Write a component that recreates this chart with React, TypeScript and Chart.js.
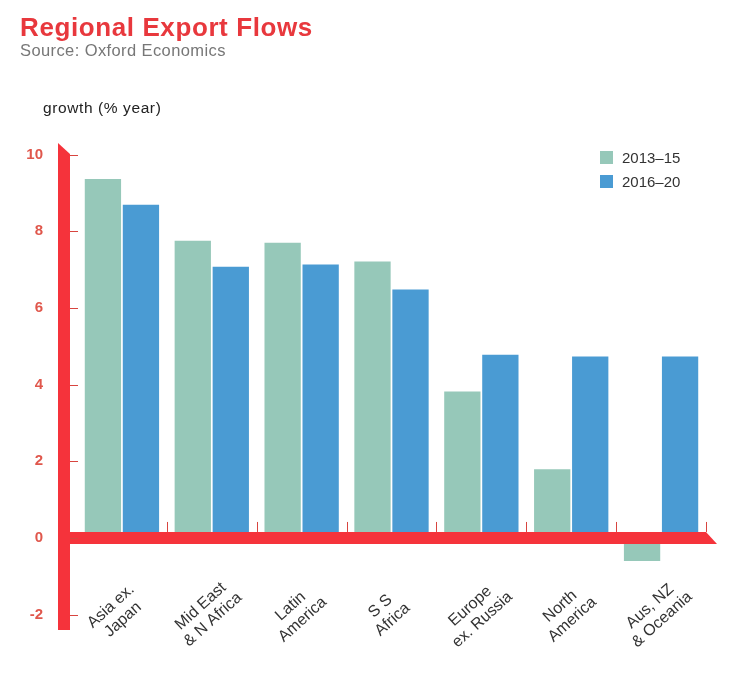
import React, { useEffect, useRef } from "react";
import { Chart, registerables } from "chart.js";

Chart.register(...registerables);

const categories: string[][] = [
  ["Asia ex.", "Japan"],
  ["Mid East", "& N Africa"],
  ["Latin", "America"],
  ["S S", "Africa"],
  ["Europe", "ex. Russia"],
  ["North", "America"],
  ["Aus, NZ", "& Oceania"],
];
const series2013 = [9.36, 7.75, 7.7, 7.21, 3.82, 1.79, -0.6];
const series2016 = [8.69, 7.07, 7.13, 6.48, 4.78, 4.73, 4.73];
const seriesLabels = ["2013–15", "2016–20"];
const seriesColors = ["#96c8b9", "#4a9bd3"];
const yTicks = [-2, 0, 2, 4, 6, 8, 10];

const RED = "#f5333b";
const FONT = '"Liberation Sans", Arial, Helvetica, sans-serif';

const axesPlugin = {
  id: "redAxes",
  afterDatasetsDraw(chart: any) {
    const { ctx, chartArea, scales } = chart;
    const x = scales.x;
    const y = scales.y;
    const y0 = y.getPixelForValue(0);
    const axX = chartArea.left - 13;
    const half = 6;
    ctx.save();
    ctx.fillStyle = RED;
    ctx.beginPath();
    ctx.moveTo(axX - half, chartArea.bottom);
    ctx.lineTo(axX + half, chartArea.bottom);
    ctx.lineTo(axX + half, chartArea.top + 11);
    ctx.lineTo(axX - half, chartArea.top);
    ctx.closePath();
    ctx.fill();
    ctx.beginPath();
    ctx.moveTo(axX, y0 - half);
    ctx.lineTo(chartArea.right, y0 - half);
    ctx.lineTo(chartArea.right + 11, y0 + half);
    ctx.lineTo(axX, y0 + half);
    ctx.closePath();
    ctx.fill();
    ctx.strokeStyle = "#d8453f";
    ctx.lineWidth = 1;
    yTicks.forEach((v) => {
      const py = Math.round(y.getPixelForValue(v)) + 0.5;
      ctx.beginPath();
      ctx.moveTo(axX + half, py);
      ctx.lineTo(axX + half + 8, py);
      ctx.stroke();
    });
    const step = x.getPixelForValue(1) - x.getPixelForValue(0);
    for (let i = 0; i < categories.length; i++) {
      const bx = Math.round(x.getPixelForValue(i) + step / 2) + 0.5;
      ctx.beginPath();
      ctx.moveTo(bx, y0 - half - 10);
      ctx.lineTo(bx, y0 - half);
      ctx.stroke();
    }
    ctx.restore();
  },
  afterDraw(chart: any) {
    const { ctx, scales } = chart;
    const x = scales.x;
    const y = scales.y;
    const y0 = y.getPixelForValue(0);
    const lh = 18;
    const ang = (-42 * Math.PI) / 180;
    ctx.save();
    ctx.font = `16px ${FONT}`;
    ctx.fillStyle = "#333333";
    ctx.textAlign = "center";
    ctx.textBaseline = "middle";
    categories.forEach((lines, i) => {
      const cx = x.getPixelForValue(i) - 5;
      const cy = y0 + 75;
      ctx.save();
      ctx.translate(cx, cy);
      ctx.rotate(ang);
      lines.forEach((t, j) => {
        const off = (j - (lines.length - 1) / 2) * lh;
        ctx.fillText(t, 0, off);
      });
      ctx.restore();
    });
    ctx.restore();
  },
};

export default function App() {
  const canvasRef = useRef<HTMLCanvasElement | null>(null);

  useEffect(() => {
    const canvas = canvasRef.current;
    if (!canvas) return;
    const chart = new Chart(canvas, {
      type: "bar",
      data: {
        labels: categories.map((c) => c.join(" ")),
        datasets: [
          {
            label: seriesLabels[0],
            data: series2013,
            backgroundColor: seriesColors[0],
            barPercentage: 0.955,
            categoryPercentage: 0.846,
          },
          {
            label: seriesLabels[1],
            data: series2016,
            backgroundColor: seriesColors[1],
            barPercentage: 0.955,
            categoryPercentage: 0.846,
          },
        ],
      },
      options: {
        responsive: false,
        animation: false,
        devicePixelRatio: 1,
        layout: { padding: { top: 143, right: 30, bottom: 62, left: 0 } },
        plugins: {
          legend: { display: false },
          tooltip: { enabled: false },
          title: { display: false },
        },
        scales: {
          x: {
            display: false,
            offset: true,
          },
          y: {
            min: -2.4,
            max: 10.3,
            grid: { display: false, drawTicks: false },
            border: { display: false },
            afterBuildTicks: (scale: any) => {
              scale.ticks = yTicks.map((v) => ({ value: v }));
            },
            afterFit: (scale: any) => {
              scale.width = 77;
            },
            ticks: {
              padding: 34,
              color: "#e0574c",
              font: { family: FONT, size: 15, weight: "bold" },
              callback: (v: any) => String(v),
            },
          },
        },
      },
      plugins: [axesPlugin],
    } as any);
    return () => chart.destroy();
  }, []);

  return (
    <div
      style={{
        position: "fixed",
        left: 0,
        top: 0,
        width: 736,
        height: 692,
        background: "#ffffff",
        overflow: "hidden",
      }}
    >
      <canvas
        ref={canvasRef}
        width={736}
        height={692}
        style={{ position: "absolute", left: 0, top: 0, width: 736, height: 692 }}
      />
      <div
        style={{
          position: "absolute",
          left: 20,
          top: 14,
          fontFamily: FONT,
          fontWeight: "bold",
          fontSize: 26,
          lineHeight: "26px",
          letterSpacing: 0.6,
          color: "#e8383d",
          whiteSpace: "nowrap",
        }}
      >
        Regional Export Flows
      </div>
      <div
        style={{
          position: "absolute",
          left: 20,
          top: 42,
          fontFamily: FONT,
          fontSize: 16.5,
          lineHeight: "16.5px",
          letterSpacing: 0.4,
          color: "#777777",
          whiteSpace: "nowrap",
        }}
      >
        Source: Oxford Economics
      </div>
      <div
        style={{
          position: "absolute",
          left: 43,
          top: 100,
          fontFamily: FONT,
          fontSize: 15.5,
          lineHeight: "15.5px",
          letterSpacing: 0.6,
          color: "#222222",
          whiteSpace: "nowrap",
        }}
      >
        growth (% year)
      </div>
      {seriesLabels.map((lab, i) => (
        <div
          key={lab}
          style={{
            position: "absolute",
            left: 600,
            top: 150 + i * 24.5,
            height: 14,
            display: "flex",
            alignItems: "center",
            fontFamily: FONT,
            fontSize: 15,
            color: "#333333",
            whiteSpace: "nowrap",
          }}
        >
          <span
            style={{
              display: "inline-block",
              width: 13,
              height: 13,
              background: seriesColors[i],
              marginRight: 9,
            }}
          />
          <span>{lab}</span>
        </div>
      ))}
    </div>
  );
}
